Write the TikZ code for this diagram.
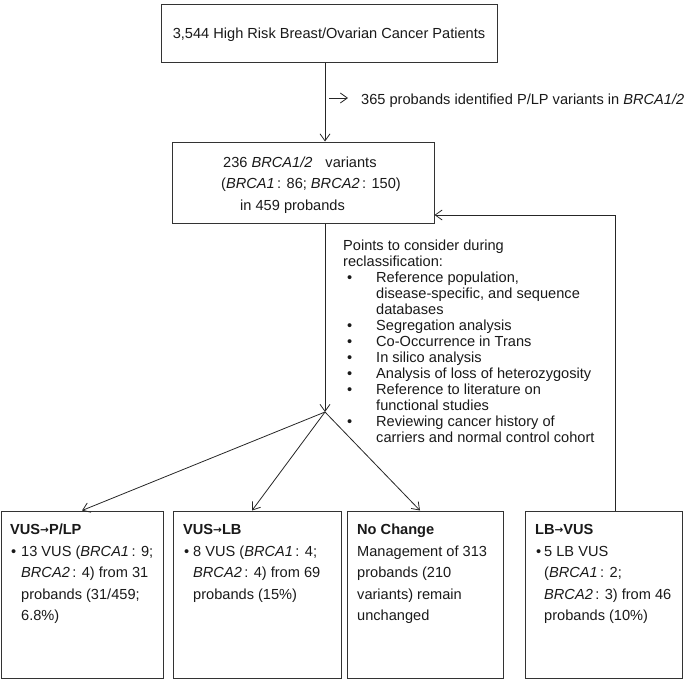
\documentclass[tikz,border=0pt]{standalone}
\usepackage{fontspec}
\setmainfont{Liberation Sans}
\newfontfamily\arrowfont{DejaVu Sans}
\usetikzlibrary{arrows.meta}
\newcommand{\sarr}{{\arrowfont\fontsize{10.5}{10}\selectfont\raisebox{0.1ex}{→}}}
\tikzset{
  box/.style={draw=black!80, line width=1pt, inner sep=0pt, fill=none},
  txt/.style={anchor=base west, inner sep=0pt, text=black!90, font=\fontsize{14.6}{16}\selectfont},
  arr/.style={draw=black!85, line width=0.8pt, -{Straight Barb[length=7pt,width=10pt]}},
  ln/.style={draw=black!85, line width=0.8pt}
}
\begin{document}
\begin{tikzpicture}[x=1pt,y=-1pt]
\useasboundingbox (0,0) rectangle (685,680);
% boxes
\node[box, minimum width=336pt, minimum height=58pt] (top) at (329,33) {};
\node[box, minimum width=262pt, minimum height=81pt] (mid) at (303,182.5) {};
\node[box, minimum width=162pt, minimum height=167pt] (bA) at (82,594.5) {};
\node[box, minimum width=168pt, minimum height=167pt] (bB) at (257,594.5) {};
\node[box, minimum width=156pt, minimum height=167pt] (bC) at (425,594.5) {};
\node[box, minimum width=157pt, minimum height=167pt] (bD) at (603.5,594.5) {};
% top text
\node[txt, anchor=base] (toptxt) at (329,38) {3,544 High Risk Breast/Ovarian Cancer Patients};
\node[txt] (note) at (361,104) {365 probands identified P/LP variants in \textit{BRCA1/2}};
% mid text
\node[txt] (m1) at (223,167) {236 \textit{BRCA1/2}\hspace{13pt}variants};
\node[txt] (m2) at (221,188.5) {(\textit{BRCA1}\,: 86; \textit{BRCA2}\,: 150)};
\node[txt] (m3) at (240,210) {in 459 probands};
% points
\node[txt] (p1) at (343,250) {Points to consider during};
\node[txt] (p2) at (343,266) {reclassification:};
\node[txt] (q1) at (347,282) {\textbullet};
\node[txt] (r1) at (376,282) {Reference population,};
\node[txt] (r2) at (376,298) {disease-specific, and sequence};
\node[txt] (r3) at (376,314) {databases};
\node[txt] (q2) at (347,330) {\textbullet};
\node[txt] (r4) at (376,330) {Segregation analysis};
\node[txt] (q3) at (347,346) {\textbullet};
\node[txt] (r5) at (376,346) {Co-Occurrence in Trans};
\node[txt] (q4) at (347,362) {\textbullet};
\node[txt] (r6) at (376,362) {In silico analysis};
\node[txt] (q5) at (347,378) {\textbullet};
\node[txt] (r7) at (376,378) {Analysis of loss of heterozygosity};
\node[txt] (q6) at (347,394) {\textbullet};
\node[txt] (r8) at (376,394) {Reference to literature on};
\node[txt] (r9) at (376,410) {functional studies};
\node[txt] (q7) at (347,426) {\textbullet};
\node[txt] (r10) at (376,426) {Reviewing cancer history of};
\node[txt] (r11) at (376,442) {carriers and normal control cohort};
% box A
\node[txt] (a0) at (10,534) {\textbf{VUS\sarr P/LP}};
\node[txt] (a1) at (11,556) {\textbullet};
\node[txt] (a2) at (21,556) {13 VUS (\textit{BRCA1}\,: 9;};
\node[txt] (a3) at (21,577.5) {\textit{BRCA2}\,: 4) from 31};
\node[txt] (a4) at (21,599) {probands (31/459;};
\node[txt] (a5) at (21,620.5) {6.8\%)};
% box B
\node[txt] (b0) at (183,534) {\textbf{VUS\sarr LB}};
\node[txt] (b1) at (184,556) {\textbullet};
\node[txt] (b2) at (193,556) {8 VUS (\textit{BRCA1}\,: 4;};
\node[txt] (b3) at (193,577.5) {\textit{BRCA2}\,: 4) from 69};
\node[txt] (b4) at (193,599) {probands (15\%)};
% box C
\node[txt] (c0) at (357,534) {\textbf{No Change}};
\node[txt] (c1) at (357,556) {Management of 313};
\node[txt] (c2) at (357,577.5) {probands (210};
\node[txt] (c3) at (357,599) {variants) remain};
\node[txt] (c4) at (357,620.5) {unchanged};
% box D
\node[txt] (d0) at (535,534) {\textbf{LB\sarr VUS}};
\node[txt] (d1) at (536,556) {\textbullet};
\node[txt] (d2) at (544,556) {5 LB VUS};
\node[txt] (d3) at (544,577.5) {(\textit{BRCA1}\,: 2;};
\node[txt] (d4) at (544,599) {\textit{BRCA2}\,: 3) from 46};
\node[txt] (d5) at (544,620.5) {probands (10\%)};
% connectors
\coordinate (vx) at (325,0);
\coordinate (sa) at (329,98);
\coordinate (jn) at (325,412);
\coordinate (fb) at (615,215);
\draw[arr] (top.south -| vx) -- (mid.north -| vx);
\draw[arr] (sa) -- ([xshift=-13pt]note.west |- sa);
\draw[arr] (mid.south -| jn) -- (jn);
\draw[arr] (jn) -- (bA.north);
\draw[arr] (jn) -- ([xshift=-5pt]bB.north);
\draw[arr] (jn) -- ([xshift=-5pt]bC.north);
\draw[arr] (bD.north -| fb) -- (fb) -- (fb -| mid.east);
\end{tikzpicture}
\end{document}
